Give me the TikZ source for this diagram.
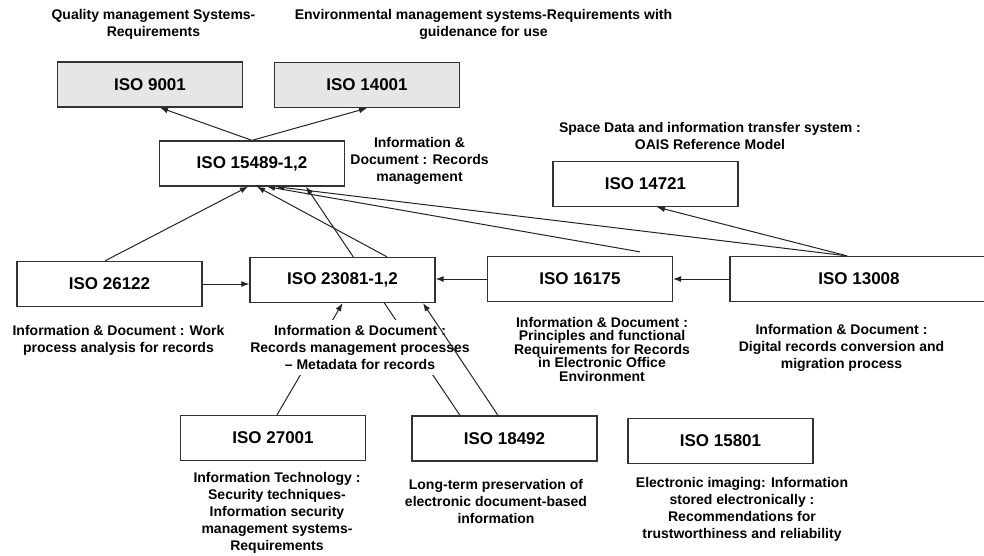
\documentclass[tikz,border=0pt]{standalone}
\usepackage{fontspec}
\setmainfont{Liberation Sans}
\usetikzlibrary{arrows.meta, positioning, backgrounds, calc}
\definecolor{boxBorder}{RGB}{50, 50, 50}
\definecolor{linkGray}{RGB}{35, 35, 35}
\definecolor{stdGray}{RGB}{230, 230, 230}

\begin{document}
\begin{tikzpicture}[
        x=1pt, y=-1pt,
        isoNode/.style={draw=boxBorder, fill=white, line width=1.3pt, inner sep=0pt, minimum width=185pt, minimum height=45pt, font=\bfseries\fontsize{17}{20}\selectfont},
        baseNode/.style={isoNode, fill=stdGray},
        descNode/.style={fill=white, inner sep=5pt, align=center, font=\bfseries\fontsize{14}{17}\selectfont},
        link/.style={draw=linkGray, line width=1pt, -{Latex[length=8pt,width=6pt]}}
    ]
        \useasboundingbox (0,0) rectangle (984,555);

        \node[baseNode] (iso9001) at (150,84.5) {ISO 9001};
        \node[baseNode] (iso14001) at (367,85) {ISO 14001};
        \node[isoNode] (iso15489) at (252,163.5) {ISO 15489-1,2};
        \node[isoNode] (iso14721) at (645.5,184) {ISO 14721};
        \node[isoNode] (iso26122) at (109.5,284) {ISO 26122};
        \node[isoNode] (iso23081) at (342.5,280) {ISO 23081-1,2};
        \node[isoNode] (iso16175) at (580,279) {ISO 16175};
        \node[isoNode, minimum width=258pt] (iso13008) at (859,279) {ISO 13008};
        \node[isoNode] (iso27001) at (273,438) {ISO 27001};
        \node[isoNode] (iso18492) at (504.5,438.5) {ISO 18492};
        \node[isoNode] (iso15801) at (720.5,441) {ISO 15801};

        \node[descNode] (d9001) at (153.5,24) {Quality management Systems-\\Requirements};
        \node[descNode] (d14001) at (483.5,24) {Environmental management systems-Requirements with\\guidenance for use};
        \node[descNode] (d15489) at (419.5,161) {Information \&\\Document : Records\\management};
        \node[descNode] (d14721) at (710,135.5) {Space Data and information transfer system :\\OAIS Reference Model};
        \node[descNode] (d26122) at (118.5,340) {Information \& Document : Work\\process analysis for records};
        \node[descNode] (d23081) at (360,347.5) {Information \& Document :\\Records management processes\\-- Metadata for records};
        \node[descNode, font=\bfseries\fontsize{14}{13.5}\selectfont] (d16175) at (602,349) {Information \& Document :\\Principles and functional\\Requirements for Records\\in Electronic Office\\Environment};
        \node[descNode] (d13008) at (841.5,347.5) {Information \& Document :\\Digital records conversion and\\migration process};
        \node[descNode] (d27001) at (277,512.5) {Information Technology :\\Security techniques-\\Information security\\management systems-\\Requirements};
        \node[descNode] (d18492) at (496,501.5) {Long-term preservation of\\electronic document-based\\information};
        \node[descNode] (d15801) at (742,509.5) {Electronic imaging: Information\\stored electronically :\\Recommendations for\\trustworthiness and reliability};

        % liens derriere les boites et les textes
        \begin{scope}[on background layer]
            \draw[link] (iso15489.north) -- ([xshift=10pt]iso9001.south);
            \draw[link] (iso15489.north) -- (iso14001.south);
            \draw[link] ([xshift=-4.5pt]iso26122.north) -- ([xshift=-4pt]iso15489.south);
            \draw[link] ([xshift=44.5pt]iso23081.north) -- ([xshift=5pt]iso15489.south);
            \draw[link] ([xshift=60pt,yshift=4pt]iso16175.north) -- ([xshift=15pt]iso15489.south);
            \draw[link] ([xshift=-12pt]iso13008.north) -- ([xshift=24pt]iso15489.south);
            \draw[link] ([xshift=-12pt]iso13008.north) -- ([xshift=11.5pt]iso14721.south);
            \draw[link] ([xshift=-44.5pt]iso18492.north) -- ([xshift=54pt]iso15489.south);
            \draw[link] ([xshift=4pt]iso27001.north) -- (iso23081.south);
            \draw[link] (iso26122.east) -- (iso26122.east -| iso23081.west);
            \draw[link] (iso16175.west) -- (iso16175.west -| iso23081.east);
            \draw[link] (iso13008.west) -- (iso13008.west -| iso16175.east);
        \end{scope}
        \draw[link] ([xshift=-6.5pt]iso18492.north) -- ([xshift=80.5pt]iso23081.south);
    \end{tikzpicture}
\end{document}
